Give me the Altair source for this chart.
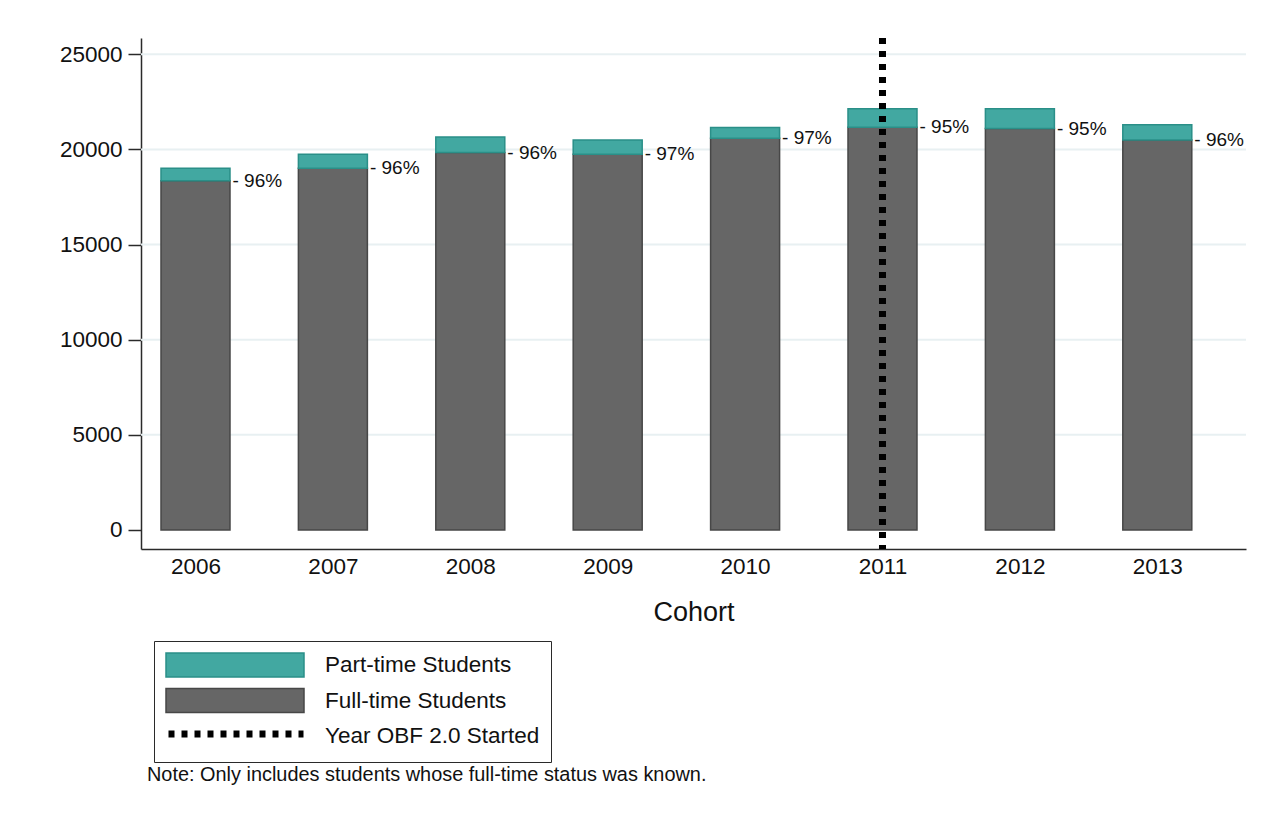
import altair as alt
import pandas as pd

# ---- data ----
years = [2006, 2007, 2008, 2009, 2010, 2011, 2012, 2013]
full_time = [18350, 19020, 19840, 19750, 20590, 21170, 21100, 20500]
part_time = [670, 735, 810, 755, 560, 965, 1035, 805]
pct_labels = ["96%", "96%", "96%", "97%", "97%", "95%", "95%", "96%"]
y_ticks = [0, 5000, 10000, 15000, 20000, 25000]
grid_values = [5000, 10000, 15000, 20000, 25000]
obf_year = [2011]
series_names = ["Part-time Students", "Full-time Students", "Year OBF 2.0 Started"]
note_text = "Note: Only includes students whose full-time status was known."
x_title = "Cohort"

FONT = "Liberation Sans"
TEXT = "#111111"
AXIS = "#2a2a2a"

rows = []
for yr, f, p in zip(years, full_time, part_time):
    rows.append({"year": yr, "series": series_names[1], "start": 0, "end": f})
    rows.append({"year": yr, "series": series_names[0], "start": f, "end": f + p})
bars_df = pd.DataFrame(rows)
labels_df = pd.DataFrame({"year": years, "full": full_time,
                          "label": ["- " + s for s in pct_labels]})
grid_df = pd.DataFrame({"v": grid_values})
obf_df = pd.DataFrame({"year": obf_year, "series": [series_names[2]]})
note_df = pd.DataFrame({"note": [note_text]})

xscale = alt.Scale(domain=[2005.6034, 2013.6456], nice=False, zero=False, padding=0)
yscale = alt.Scale(domain=[-1000, 25860], nice=False, zero=False, padding=0)
xaxis = alt.Axis(values=years, format="d", ticks=False, grid=False,
                 labelFontSize=22.5, labelFont=FONT, labelColor=TEXT, labelPadding=6,
                 labelFlush=False, labelOverlap=False,
                 domainColor=AXIS, domainWidth=1.5,
                 titleFontSize=27, titleFont=FONT, titleFontWeight="normal",
                 titleColor=TEXT, titlePadding=22)
yaxis = alt.Axis(values=y_ticks, format="d", grid=False, tickSize=13,
                 tickColor=AXIS, tickWidth=1.5, domainColor=AXIS, domainWidth=1.5,
                 labelFontSize=22.5, labelFont=FONT, labelColor=TEXT, labelPadding=6,
                 labelFlush=False, labelOverlap=False)


def X(field):
    return alt.X(field, type="quantitative", scale=xscale, axis=xaxis, title=x_title)


def Y(field):
    return alt.Y(field, type="quantitative", scale=yscale, axis=yaxis, title=None)


color_scale = alt.Scale(domain=series_names, range=["#42a8a1", "#666666", "transparent"])
stroke_scale = alt.Scale(domain=series_names, range=["#2a8f88", "#474747", "transparent"])
dash_scale = alt.Scale(domain=[series_names[2]], range=[[6, 7]])

# wide swatch: 138 x 24 px drawn from a 24 px symbol size
legend_box = alt.Legend(orient="none", legendX=13, legendY=603, direction="vertical",
                        title=None, symbolType="M-5.75,-1H5.75V1H-5.75Z",
                        symbolSize=576, symbolStrokeWidth=1.5, symbolOffset=57,
                        labelFontSize=22.5, labelFont=FONT, labelColor=TEXT,
                        labelOffset=77, labelLimit=400, rowPadding=5.5,
                        padding=11, strokeColor=AXIS)
legend_dash = alt.Legend(orient="none", legendX=24, legendY=625, title=None,
                         symbolType="stroke", symbolSize=18225, symbolStrokeWidth=7,
                         labelExpr="''", padding=0)

grid = alt.Chart(grid_df).mark_rule(color="#e8f0f2", strokeWidth=2).encode(y=Y("v"))

bars = alt.Chart(bars_df).mark_bar(width=69, strokeWidth=1.5).encode(
    x=X("year"),
    y=Y("start"),
    y2="end",
    color=alt.Color("series:N", scale=color_scale, legend=legend_box),
    stroke=alt.Stroke("series:N", scale=stroke_scale, legend=legend_box),
)

labels = alt.Chart(labels_df).mark_text(
    align="left", baseline="middle", dx=37, fontSize=19, font=FONT, color=TEXT
).encode(x=X("year"), y=Y("full"), text="label:N")

obf = alt.Chart(obf_df).mark_rule(color="black", strokeWidth=7).encode(
    x=X("year"),
    strokeDash=alt.StrokeDash("series:N", scale=dash_scale, legend=legend_dash),
)

note = alt.Chart(note_df).mark_text(
    align="left", baseline="middle", fontSize=19.9, font=FONT, color=TEXT
).encode(text="note:N", x=alt.value(6), y=alt.value(737))

chart = alt.layer(grid, bars, labels, obf, note).properties(
    width=1105, height=511,
    autosize=alt.AutoSizeParams(type="none"),
    padding={"left": 133, "top": 30, "right": 10, "bottom": 251},
    background="white",
).configure_view(strokeWidth=0)

chart.save("out.html", embed_options={"renderer": "svg", "actions": False})
